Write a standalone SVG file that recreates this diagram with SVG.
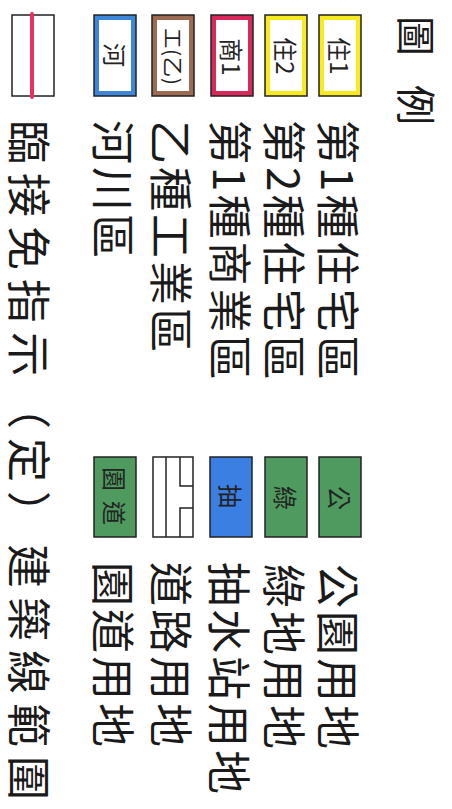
<svg xmlns="http://www.w3.org/2000/svg" width="452" height="809" viewBox="0 0 452 809">
<style>
.bg{fill:#ffffff}
.box{stroke:#222;stroke-width:1.5}
.inner{fill:#ffffff}
.t{font-family:"Noto Sans CJK TC","Noto Sans CJK SC",sans-serif;font-size:44px;fill:#1a1a1a;dominant-baseline:central;letter-spacing:3px}
.title{font-family:"Noto Sans CJK TC","Noto Sans CJK SC",sans-serif;font-size:40px;fill:#1a1a1a;dominant-baseline:central}
.lb{font-family:"Noto Sans CJK TC","Noto Sans CJK SC",sans-serif;font-size:24px;fill:#222;dominant-baseline:central;text-anchor:middle}
.road{fill:none;stroke:#222;stroke-width:1.5}
</style>
<rect class="bg" x="0" y="0" width="452" height="809"/>

<g id="title">
<text class="title" transform="translate(418,16) rotate(90)">圖</text>
<text class="title" transform="translate(418,85) rotate(90)">例</text>
</g>

<g id="jyu1">
<rect class="box" x="319" y="15" width="42" height="81" fill="#f7ea1e"/>
<rect class="inner" x="324" y="20" width="32" height="71"/>
<text class="lb" transform="translate(340,56) rotate(90)">住1</text>
<text class="t" transform="translate(340,120) rotate(90)">第1種住宅區</text>
</g>

<g id="jyu2">
<rect class="box" x="265" y="15" width="42" height="81" fill="#f7ea1e"/>
<rect class="inner" x="270" y="20" width="32" height="71"/>
<text class="lb" transform="translate(286,56) rotate(90)">住2</text>
<text class="t" transform="translate(286,120) rotate(90)">第2種住宅區</text>
</g>

<g id="shou1">
<rect class="box" x="211" y="15" width="42" height="81" fill="#d9285a"/>
<rect class="inner" x="216" y="20" width="32" height="71"/>
<text class="lb" transform="translate(232,57) rotate(90)">商1</text>
<text class="t" transform="translate(232,120) rotate(90)">第1種商業區</text>
</g>

<g id="kou">
<rect class="box" x="152" y="15" width="42" height="81" fill="#9d6a52"/>
<rect class="inner" x="157" y="20" width="32" height="71"/>
<text class="lb" style="font-size:20px;letter-spacing:1px" transform="translate(173,57) rotate(90)">工(乙)</text>
<text class="t" transform="translate(173,120) rotate(90)">乙種工業區</text>
</g>

<g id="kasen">
<rect class="box" x="94" y="15" width="42" height="81" fill="#3d86d8"/>
<rect class="inner" x="99" y="20" width="32" height="71"/>
<text class="lb" transform="translate(115,55) rotate(90)">河</text>
<text class="t" transform="translate(115,120) rotate(90)">河川區</text>
</g>

<g id="kenchikusen">
<rect class="box" x="12" y="15" width="42" height="81" fill="#ffffff"/>
<line x1="32" y1="14" x2="32" y2="97" stroke="#ec2f5c" stroke-width="4" stroke-linecap="round"/>
<text class="t" style="letter-spacing:9px" transform="translate(31,120) rotate(90)">臨接免指示（定）建築線範圍</text>
</g>

<g id="kouen">
<rect class="box" x="319" y="457" width="42" height="80" fill="#4f9a5f"/>
<text class="lb" transform="translate(340,498) rotate(90)">公</text>
<text class="t" transform="translate(340,564) rotate(90)">公園用地</text>
</g>

<g id="ryokuchi">
<rect class="box" x="265" y="457" width="42" height="80" fill="#4f9a5f"/>
<text class="lb" transform="translate(286,498) rotate(90)">綠</text>
<text class="t" transform="translate(286,564) rotate(90)">綠地用地</text>
</g>

<g id="pump">
<rect class="box" x="210" y="457" width="42" height="80" fill="#3b7fe2"/>
<text class="lb" transform="translate(231,496) rotate(90)">抽</text>
<text class="t" transform="translate(231,562) rotate(90)">抽水站用地</text>
</g>

<g id="douro">
<rect class="road" x="153" y="457" width="40" height="80"/>
<line class="road" x1="166" y1="457" x2="166" y2="537"/>
<polyline class="road" points="180,457 180,486 193,486"/>
<polyline class="road" points="193,508 180,508 180,537"/>
<text class="t" transform="translate(173,562) rotate(90)">道路用地</text>
</g>

<g id="endou">
<rect class="box" x="94" y="457" width="42" height="80" fill="#4f9a5f"/>
<text class="lb" transform="translate(115,479) rotate(90)">園</text>
<text class="lb" transform="translate(115,513) rotate(90)">道</text>
<text class="t" transform="translate(115,562) rotate(90)">園道用地</text>
</g>

<g id="connectors"></g>
</svg>
